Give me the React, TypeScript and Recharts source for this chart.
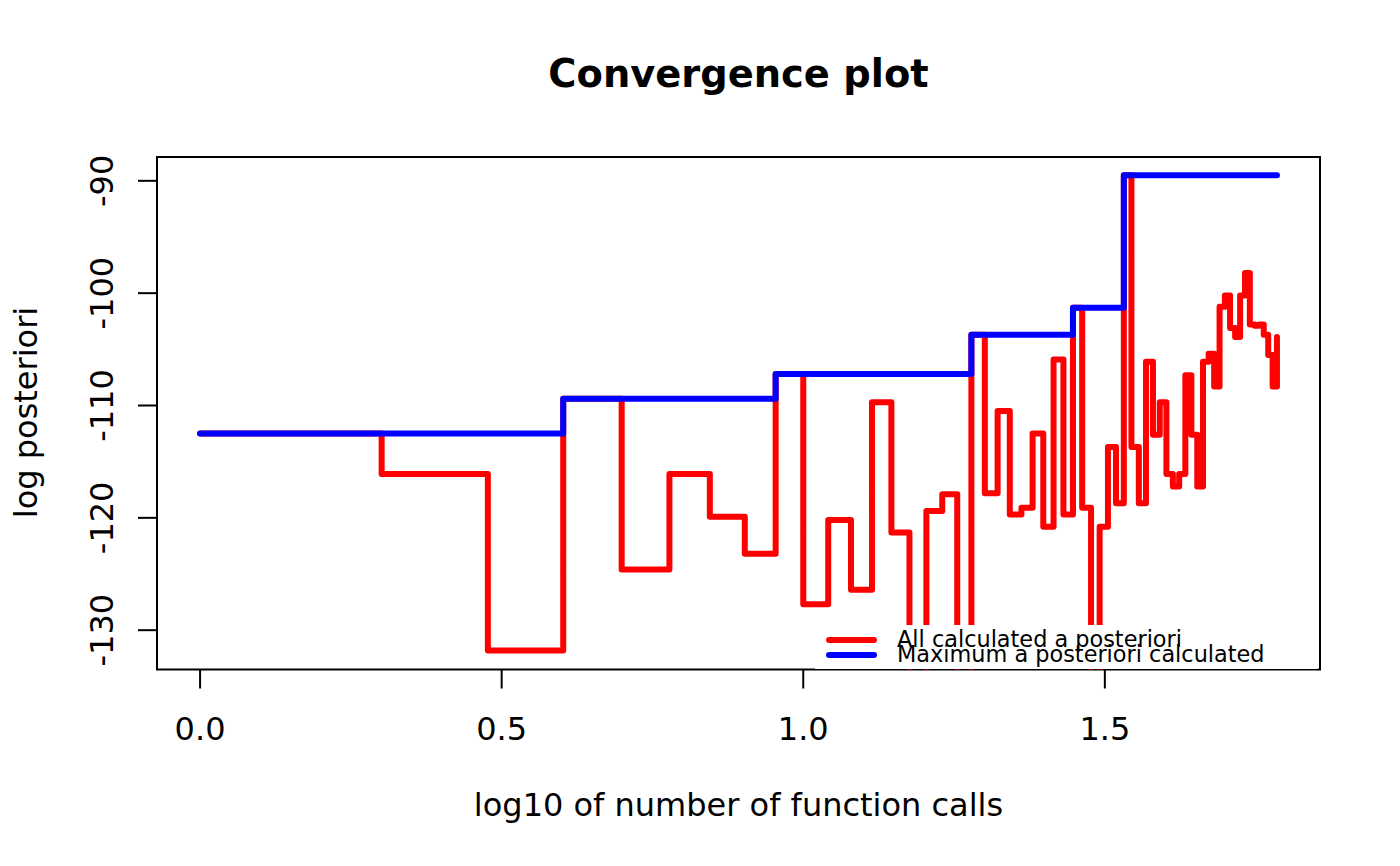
import { LineChart, Line, XAxis, YAxis, ReferenceArea, Legend } from 'recharts';

// function call index and the log posterior found at that call
const calls = [
  1, 2, 3, 4, 5, 6, 7, 8, 9, 10, 11, 12, 13, 14, 15, 16, 17, 18, 19, 20, 21,
  22, 23, 24, 25, 26, 27, 28, 29, 30, 31, 32, 33, 34, 35, 36, 37, 38, 39, 40,
  41, 42, 43, 44, 45, 46, 47, 48, 49, 50, 51, 52, 53, 54, 55, 56, 57, 58, 59,
  60, 61,
];
const posterior = [
  -112.5, -116.1, -131.8, -109.4, -124.6, -116.1, -119.9, -123.2, -107.2, -127.7,
  -120.2, -126.4, -109.7, -121.3, -140, -119.4, -117.9, -140, -103.7, -117.8,
  -110.5, -119.7, -119.1, -112.5, -120.8, -105.9, -119.7, -101.3, -119.1, -140,
  -120.8, -113.7, -118.7, -89.5, -113.7, -118.7, -106.1, -112.6, -109.7, -116.1,
  -117.2, -116.1, -107.3, -112.6, -117.2, -106.1, -105.4, -108.3, -101.2, -100.2,
  -103.1, -103.9, -100.2, -98.2, -102.8, -102.9, -102.8, -103.7, -105.5, -108.3,
  -103.9,
];

// calls where the running maximum changed
const maxCalls = [1, 4, 9, 19, 28, 34, 61];
const maxPosterior = [-112.5, -109.4, -107.2, -103.7, -101.3, -89.5, -89.5];

const xTicks = [0, 0.5, 1, 1.5];
const yTicks = [-130, -120, -110, -100, -90];
const xDomain = [-0.0714, 1.8567];
const yDomain = [-133.5, -87.88];

const allData = calls.map((c, i) => ({ x: Math.log10(c), y: posterior[i] }));
const maxData = maxCalls.map((c, i) => ({ x: Math.log10(c), y: maxPosterior[i] }));

const FONT = 'DejaVu Sans';

const XTick = (props: any) => (
  <text x={props.x} y={props.y + 51} textAnchor="middle" fontSize={32} fontFamily={FONT} fill="#000">
    {props.payload.value.toFixed(1)}
  </text>
);

const YTick = (props: any) => (
  <text
    transform={`translate(${props.x - 25}, ${props.y}) rotate(-90)`}
    textAnchor="middle"
    fontSize={32}
    fontFamily={FONT}
    fill="#000"
  >
    {props.payload.value}
  </text>
);

const LegendBox = () => (
  <svg width={503} height={44} style={{ display: 'block' }}>
    <rect x={0} y={0} width={503} height={44} fill="#fff" />
    <line x1={14} y1={15} x2={59} y2={15} stroke="#ff0000" strokeWidth={6} strokeLinecap="round" />
    <line x1={14} y1={30} x2={59} y2={30} stroke="#0000ff" strokeWidth={6} strokeLinecap="round" />
    <text x={82} y={22} fontSize={22.4} fontFamily={FONT} fill="#000">All calculated a posteriori</text>
    <text x={82} y={37} fontSize={22.4} fontFamily={FONT} fill="#000">Maximum a posteriori calculated</text>
  </svg>
);

export default function App() {
  return (
    <div style={{ position: 'absolute', left: 0, top: 0, background: '#fff' }}>
      <LineChart
        width={1400}
        height={866}
        margin={{ top: 157, right: 80, bottom: 136.5, left: 97 }}
        style={{ fontFamily: FONT }}
      >
        <XAxis
          type="number"
          dataKey="x"
          domain={xDomain}
          ticks={xTicks}
          allowDataOverflow
          height={60}
          axisLine={false}
          tickSize={19}
          tickMargin={0}
          tickLine={{ stroke: '#000', strokeWidth: 2 }}
          tick={XTick}
        />
        <YAxis
          type="number"
          dataKey="y"
          domain={yDomain}
          ticks={yTicks}
          allowDataOverflow
          width={60}
          axisLine={false}
          tickSize={19}
          tickMargin={0}
          tickLine={{ stroke: '#000', strokeWidth: 2 }}
          tick={YTick}
        />
        <Line
          data={allData}
          dataKey="y"
          type="stepAfter"
          stroke="#ff0000"
          strokeWidth={6}
          strokeLinecap="round"
          strokeLinejoin="round"
          dot={false}
          activeDot={false}
          isAnimationActive={false}
          name="All calculated a posteriori"
        />
        <Line
          data={maxData}
          dataKey="y"
          type="stepAfter"
          stroke="#0000ff"
          strokeWidth={6}
          strokeLinecap="round"
          strokeLinejoin="round"
          dot={false}
          activeDot={false}
          isAnimationActive={false}
          name="Maximum a posteriori calculated"
        />
        <ReferenceArea
          x1={xDomain[0]}
          x2={xDomain[1]}
          y1={yDomain[0]}
          y2={yDomain[1]}
          fill="none"
          stroke="#000"
          strokeWidth={2}
          ifOverflow="visible"
        />
        <Legend
          layout="vertical"
          align="center"
          verticalAlign="middle"
          content={LegendBox}
          wrapperStyle={{ position: 'absolute', left: 815, top: 624.5, width: 503, height: 44 }}
        />
        <text x={738.5} y={87} textAnchor="middle" fontSize={38.4} fontWeight="bold" fontFamily={FONT} fill="#000">
          Convergence plot
        </text>
        <text x={738.5} y={816} textAnchor="middle" fontSize={32} fontFamily={FONT} fill="#000">
          log10 of number of function calls
        </text>
        <text
          transform="translate(37, 412.5) rotate(-90)"
          textAnchor="middle"
          fontSize={32}
          fontFamily={FONT}
          fill="#000"
        >
          log posteriori
        </text>
      </LineChart>
    </div>
  );
}
